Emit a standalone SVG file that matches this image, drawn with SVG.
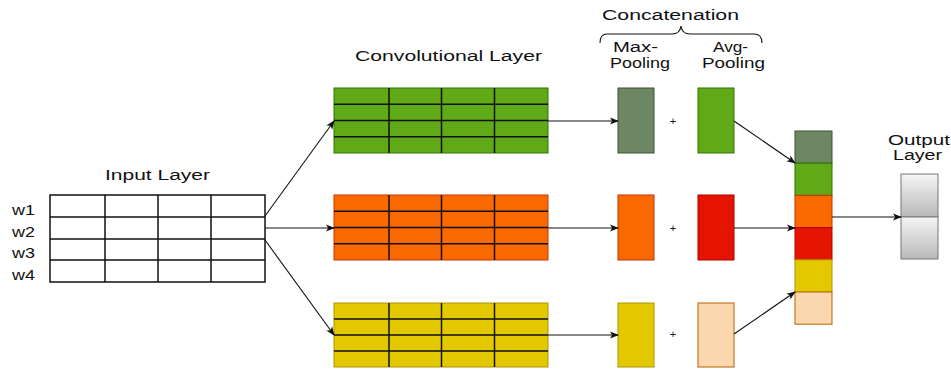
<svg xmlns="http://www.w3.org/2000/svg" width="951" height="369" viewBox="0 0 951 369">
<style>
text{font-family:"Liberation Sans",Arial,sans-serif;font-size:14px;fill:#111}
.grid{stroke:#111;stroke-width:1.5;fill:none}
.conn{stroke:#111;stroke-width:1.1;fill:none;marker-end:url(#arr)}
.plus{font-size:11px}
</style>
<defs>
<marker id="arr" viewBox="0 0 10 10" refX="9" refY="5" markerWidth="9" markerHeight="9" markerUnits="userSpaceOnUse" orient="auto"><path d="M0,1 L10,5 L0,9 L2.5,5 Z" fill="#111"/></marker>
<linearGradient id="gray" x1="0" y1="0" x2="0" y2="1"><stop offset="0" stop-color="#f5f5f5"/><stop offset="1" stop-color="#b8b8b8"/></linearGradient>
</defs>

<text x="602" y="20" textLength="137" lengthAdjust="spacingAndGlyphs">Concatenation</text>
<path d="M600,43 Q600,34 607,34 L672,34 Q680,34 681,26 Q682,34 690,34 L754,34 Q762,34 762,43" fill="none" stroke="#111" stroke-width="1.1"/>

<g id="input">
<text x="105" y="180" textLength="105" lengthAdjust="spacingAndGlyphs">Input Layer</text>
<text x="12" y="215" textLength="23" lengthAdjust="spacingAndGlyphs">w1</text>
<text x="12" y="236.5" textLength="23" lengthAdjust="spacingAndGlyphs">w2</text>
<text x="12" y="258" textLength="23" lengthAdjust="spacingAndGlyphs">w3</text>
<text x="12" y="279.5" textLength="23" lengthAdjust="spacingAndGlyphs">w4</text>
<rect x="50" y="195" width="215" height="87" fill="#fff" stroke="#111" stroke-width="1.5"/>
<path class="grid" d="M50,217H265M50,239H265M50,260H265M105,195V282M158,195V282M211,195V282"/>
</g>

<g id="conv-label"><text x="355" y="61" textLength="187" lengthAdjust="spacingAndGlyphs">Convolutional Layer</text></g>

<g id="conv-green">
<rect x="334" y="88" width="214" height="65" fill="#60a917" stroke="#2d7600"/>
<path class="grid" d="M334,104.3H548M334,120.5H548M334,136.8H548M389,88V153M441.5,88V153M494.5,88V153"/>
</g>
<g id="conv-orange">
<rect x="334" y="195" width="214" height="65" fill="#fa6800" stroke="#c73500"/>
<path class="grid" d="M334,211.3H548M334,227.5H548M334,243.8H548M389,195V260M441.5,195V260M494.5,195V260"/>
</g>
<g id="conv-yellow">
<rect x="334" y="303" width="214" height="64" fill="#e3c800" stroke="#b09500"/>
<path class="grid" d="M334,319H548M334,335H548M334,351H548M389,303V367M441.5,303V367M494.5,303V367"/>
</g>

<g id="pool-labels">
<text x="613" y="52" textLength="45" lengthAdjust="spacingAndGlyphs">Max-</text>
<text x="610" y="68" textLength="60" lengthAdjust="spacingAndGlyphs">Pooling</text>
<text x="713" y="52" textLength="35" lengthAdjust="spacingAndGlyphs">Avg-</text>
<text x="702" y="68" textLength="63" lengthAdjust="spacingAndGlyphs">Pooling</text>
</g>

<g id="max-green"><rect x="618" y="88" width="36" height="65" fill="#6d8764" stroke="#3a5431"/></g>
<g id="avg-green"><rect x="698" y="88" width="36" height="65" fill="#60a917" stroke="#2d7600"/></g>
<g id="max-orange"><rect x="618" y="195" width="36" height="65" fill="#fa6800" stroke="#c73500"/></g>
<g id="avg-red"><rect x="698" y="195" width="36" height="65" fill="#e51400" stroke="#b20000"/></g>
<g id="max-yellow"><rect x="618" y="303" width="36" height="64" fill="#e3c800" stroke="#b09500"/></g>
<g id="avg-peach"><rect x="698" y="303" width="36" height="64" fill="#fad7ac" stroke="#b46504"/></g>

<g id="plus">
<text class="plus" x="673" y="125" text-anchor="middle">+</text>
<text class="plus" x="673" y="232" text-anchor="middle">+</text>
<text class="plus" x="673" y="338" text-anchor="middle">+</text>
</g>

<g id="concat">
<rect x="795" y="131" width="37" height="32.2" fill="#6d8764" stroke="#3a5431"/>
<rect x="795" y="163.2" width="37" height="32.2" fill="#60a917" stroke="#2d7600"/>
<rect x="795" y="195.4" width="37" height="32.2" fill="#fa6800" stroke="#c73500"/>
<rect x="795" y="227.6" width="37" height="32.2" fill="#e51400" stroke="#b20000"/>
<rect x="795" y="259.8" width="37" height="32.2" fill="#e3c800" stroke="#b09500"/>
<rect x="795" y="292" width="37" height="32.2" fill="#fad7ac" stroke="#b46504"/>
</g>

<g id="output">
<text x="888" y="145" textLength="62" lengthAdjust="spacingAndGlyphs">Output</text>
<text x="893" y="160" textLength="49" lengthAdjust="spacingAndGlyphs">Layer</text>
<rect x="901" y="174" width="37" height="43" fill="url(#gray)" stroke="#777"/>
<rect x="901" y="217" width="37" height="42" fill="url(#gray)" stroke="#777"/>
</g>

<g id="connectors">
<line class="conn" x1="265" y1="216" x2="334" y2="121"/>
<line class="conn" x1="265" y1="228" x2="334" y2="228"/>
<line class="conn" x1="265" y1="240" x2="334" y2="335"/>
<line class="conn" x1="548" y1="121" x2="618" y2="121"/>
<line class="conn" x1="548" y1="228" x2="618" y2="228"/>
<line class="conn" x1="548" y1="335" x2="618" y2="335"/>
<line class="conn" x1="734" y1="121" x2="795" y2="163"/>
<line class="conn" x1="734" y1="228" x2="795" y2="228"/>
<line class="conn" x1="734" y1="334" x2="795" y2="292"/>
<line class="conn" x1="832" y1="217" x2="901" y2="217"/>
</g>
</svg>
